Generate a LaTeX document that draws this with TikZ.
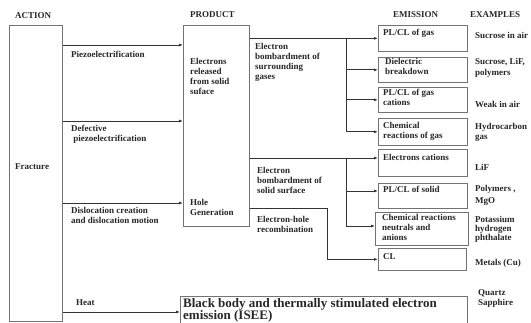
\documentclass[tikz,border=0pt]{standalone}
\usepackage{fontspec}
\setmainfont{Liberation Serif}
\usetikzlibrary{positioning, arrows.meta, calc}

\begin{document}
\begin{tikzpicture}[
  x=1pt, y=-1pt,
  box/.style={draw=black!55, line width=0.7pt, inner sep=0pt, anchor=north west},
  txt/.style={font=\fontsize{9}{10}\selectfont\bfseries, align=left, inner sep=0pt,
              anchor=north west, text=black!85,
              execute at begin node={\rule{0pt}{7pt}}},
  big/.style={txt, font=\fontsize{13}{12}\selectfont\bfseries,
              execute at begin node={\rule{0pt}{10pt}}},
  arr/.style={-{Latex[length=4pt,width=3pt]}, line width=0.8pt, color=black!80},
  wire/.style={line width=0.8pt, color=black!80},
]
\useasboundingbox (0,0) rectangle (531,323);
\clip (0,0) rectangle (531,323);

% --- Headers ---
\node[txt] (hact)  at (15,11)  {ACTION};
\node[txt] (hprod) at (190,10) {PRODUCT};
\node[txt] (hemi)  at (393,10) {EMISSION};
\node[txt] (hexa)  at (470,10) {EXAMPLES};

% --- Boxes ---
\node[box, minimum width=53, minimum height=296] (fracture) at (9,25) {};
\node[box, minimum width=66, minimum height=201] (product) at (183,25) {};

\node[box, minimum width=89, minimum height=26] (e1) at (378,25) {};
\node[box, minimum width=89, minimum height=25] (e2) at (378,57) {};
\node[box, minimum width=89, minimum height=25] (e3) at (378,87) {};
\node[box, minimum width=89, minimum height=27] (e4) at (378,118) {};
\node[box, minimum width=89, minimum height=27] (e5) at (378,149) {};
\node[box, minimum width=89, minimum height=25] (e6) at (378,183) {};
\node[box, minimum width=93, minimum height=33] (e7) at (375,212) {};
\node[box, minimum width=88, minimum height=22] (e8) at (378,248) {};

\node[box, minimum width=287, minimum height=40] (isee) at (180,296) {};

% --- Box texts ---
\node[txt] (tfrac) at (15,162) {Fracture};
\node[txt] (tel)   at (190,58) {Electrons\\released\\from solid\\suface};
\node[txt] (thole) at (190,199) {Hole\\Generation};

\node[txt] (t1) at (383,28)  {PL/CL of gas};
\node[txt] (t2) at (385,58)  {Dielectric\\breakdown};
\node[txt] (t3) at (383,89)  {PL/CL of gas\\cations};
\node[txt] (t4) at (383,122) {Chemical\\reactions of gas};
\node[txt] (t5) at (383,153) {Electrons cations};
\node[txt] (t6) at (383,185) {PL/CL of solid};
\node[txt] (t7) at (382,214) {Chemical reactions\\neutrals and\\anions};
\node[txt] (t8) at (383,252) {CL};

\node[big] (tisee) at (183,298) {Black body and thermally stimulated electron\\emission (ISEE)};

% --- Path labels ---
\node[txt] (lpiezo) at (71,50)  {Piezoelectrification};
\node[txt] (ldef)   at (71,125) {Defective\\\ piezoelectrification};
\node[txt] (ldisl)  at (71,207) {Dislocation creation\\and dislocation motion};
\node[txt] (lheat)  at (76,298) {Heat};
\node[txt] (lgas)   at (255,43) {Electron\\bombardment of\\surrounding\\gases};
\node[txt] (lsol)   at (257,167) {Electron\\bombardment of\\solid surface};
\node[txt] (lrec)   at (257,216) {Electron-hole\\recombination};

% --- Examples ---
\node[txt] (x1) at (475,31)  {Sucrose in air};
\node[txt] (x2) at (475,58)  {Sucrose, LiF,\\[1pt]polymers};
\node[txt] (x3) at (475,100) {Weak in air};
\node[txt] (x4) at (475,123) {Hydrocarbon\\gas};
\node[txt] (x5) at (475,163) {LiF};
\node[txt] (x6) at (475,185) {Polymers ,\\[2pt]MgO};
\node[txt] (x7) at (475,216) {Potassium\\[-1pt]hydrogen\\[-1pt]phthalate};
\node[txt] (x8) at (475,258) {Metals (Cu)};
\node[txt] (x9) at (478,289) {Quartz\\Sapphire};

% --- Arrows ---
\coordinate (r1) at (0,45);
\coordinate (r2) at (0,121);
\coordinate (r3) at (0,203);
\coordinate (rh) at (0,312);
\foreach \r in {r1,r2,r3}
  \draw[arr] (fracture.east |- \r) -- (product.west |- \r);
\draw[arr] (fracture.east |- rh) -- (isee.west |- rh);

% gases branch
\coordinate (bx1) at (346,0);
\draw[arr] (product.east |- e1.west) -- (e1.west);
\draw[wire] (bx1 |- e1.west) -- (bx1 |- e4.west);
\foreach \e in {e2,e3,e4}
  \draw[arr] (bx1 |- \e.west) -- (\e.west);

% solid branch
\coordinate (a5) at (0,158);
\coordinate (a6) at (0,191);
\coordinate (a7) at (0,226);
\draw[arr] (product.east |- a5) -- (e5.west |- a5);
\draw[wire] (bx1 |- a5) -- (bx1 |- a7);
\foreach \r/\e in {a6/e6, a7/e7}
  \draw[arr] (bx1 |- \r) -- (\e.west |- \r);

% recombination
\coordinate (a8) at (0,208);
\coordinate (bx2) at (327,0);
\draw[arr] (product.east |- a8) -| (bx2 |- e8.west) -- (e8.west);

\end{tikzpicture}
\end{document}
